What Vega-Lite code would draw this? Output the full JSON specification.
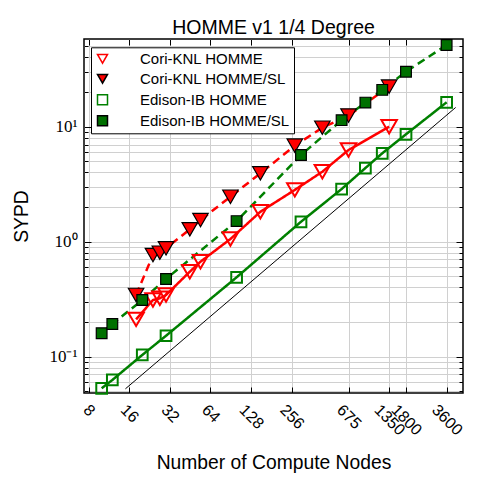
{
  "$schema": "https://vega.github.io/schema/vega-lite/v6.json",
  "width": 379,
  "height": 354,
  "autosize": {"type": "none"},
  "padding": {"left": 84, "top": 39, "right": 14, "bottom": 88},
  "background": "white",
  "title": {"text": "HOMME v1 1/4 Degree", "font": "Liberation Sans", "fontSize": 19.5, "fontWeight": "normal", "color": "black", "anchor": "middle", "baseline": "alphabetic", "offset": -16},
  "config": {
    "view": {"stroke": "black", "strokeWidth": 1.5},
    "legend": {"orient": "none", "legendX": 7, "legendY": 8.3, "title": null, "strokeColor": "black", "fillColor": "white", "cornerRadius": 0, "padding": 4, "rowPadding": 4, "symbolSize": 100, "labelOffset": 30, "labelFont": "Liberation Sans", "labelFontSize": 15, "labelColor": "black", "labelLimit": 300}
  },
  "data": {
    "values": [
      {"series": "Cori-KNL HOMME", "nodes": 18, "sypd": 0.211},
      {"series": "Cori-KNL HOMME", "nodes": 24, "sypd": 0.311},
      {"series": "Cori-KNL HOMME", "nodes": 27, "sypd": 0.322},
      {"series": "Cori-KNL HOMME", "nodes": 30, "sypd": 0.344},
      {"series": "Cori-KNL HOMME", "nodes": 45, "sypd": 0.548},
      {"series": "Cori-KNL HOMME", "nodes": 54, "sypd": 0.67},
      {"series": "Cori-KNL HOMME", "nodes": 90, "sypd": 1.055},
      {"series": "Cori-KNL HOMME", "nodes": 150, "sypd": 1.82},
      {"series": "Cori-KNL HOMME", "nodes": 270, "sypd": 2.82},
      {"series": "Cori-KNL HOMME", "nodes": 432, "sypd": 4.06},
      {"series": "Cori-KNL HOMME", "nodes": 675, "sypd": 6.27},
      {"series": "Cori-KNL HOMME", "nodes": 1350, "sypd": 10.0},
      {"series": "Cori-KNL HOMME/SL", "nodes": 18, "sypd": 0.344},
      {"series": "Cori-KNL HOMME/SL", "nodes": 24, "sypd": 0.766},
      {"series": "Cori-KNL HOMME/SL", "nodes": 27, "sypd": 0.802},
      {"series": "Cori-KNL HOMME/SL", "nodes": 30, "sypd": 0.876},
      {"series": "Cori-KNL HOMME/SL", "nodes": 45, "sypd": 1.28},
      {"series": "Cori-KNL HOMME/SL", "nodes": 54, "sypd": 1.54},
      {"series": "Cori-KNL HOMME/SL", "nodes": 90, "sypd": 2.46},
      {"series": "Cori-KNL HOMME/SL", "nodes": 150, "sypd": 3.93},
      {"series": "Cori-KNL HOMME/SL", "nodes": 270, "sypd": 6.84},
      {"series": "Cori-KNL HOMME/SL", "nodes": 432, "sypd": 9.8},
      {"series": "Cori-KNL HOMME/SL", "nodes": 675, "sypd": 12.5},
      {"series": "Cori-KNL HOMME/SL", "nodes": 1350, "sypd": 22.3},
      {"series": "Edison-IB HOMME", "nodes": 10, "sypd": 0.0531},
      {"series": "Edison-IB HOMME", "nodes": 12, "sypd": 0.0627},
      {"series": "Edison-IB HOMME", "nodes": 20, "sypd": 0.1035},
      {"series": "Edison-IB HOMME", "nodes": 30, "sypd": 0.152},
      {"series": "Edison-IB HOMME", "nodes": 100, "sypd": 0.49},
      {"series": "Edison-IB HOMME", "nodes": 300, "sypd": 1.49},
      {"series": "Edison-IB HOMME", "nodes": 600, "sypd": 2.87},
      {"series": "Edison-IB HOMME", "nodes": 900, "sypd": 4.37},
      {"series": "Edison-IB HOMME", "nodes": 1200, "sypd": 5.87},
      {"series": "Edison-IB HOMME", "nodes": 1800, "sypd": 8.59},
      {"series": "Edison-IB HOMME", "nodes": 3600, "sypd": 16.3},
      {"series": "Edison-IB HOMME/SL", "nodes": 10, "sypd": 0.16},
      {"series": "Edison-IB HOMME/SL", "nodes": 12, "sypd": 0.192},
      {"series": "Edison-IB HOMME/SL", "nodes": 20, "sypd": 0.311},
      {"series": "Edison-IB HOMME/SL", "nodes": 30, "sypd": 0.474},
      {"series": "Edison-IB HOMME/SL", "nodes": 100, "sypd": 1.51},
      {"series": "Edison-IB HOMME/SL", "nodes": 300, "sypd": 5.67},
      {"series": "Edison-IB HOMME/SL", "nodes": 600, "sypd": 11.4},
      {"series": "Edison-IB HOMME/SL", "nodes": 900, "sypd": 16.2},
      {"series": "Edison-IB HOMME/SL", "nodes": 1200, "sypd": 20.9},
      {"series": "Edison-IB HOMME/SL", "nodes": 1800, "sypd": 30.1},
      {"series": "Edison-IB HOMME/SL", "nodes": 3600, "sypd": 51.3}
    ]
  },
  "layer": [
    {
      "data": {"values": [{"nodes": 15, "sypd": 0.0525}, {"nodes": 4200, "sypd": 14.7}]},
      "mark": {"type": "line", "color": "black", "strokeWidth": 1},
      "encoding": {
        "x": {
          "field": "nodes", "type": "quantitative",
          "scale": {"type": "log", "domain": [7.4, 4760], "nice": false, "zero": false},
          "axis": {
            "orient": "bottom",
            "values": [8, 16, 32, 64, 128, 256, 675, 1350, 1800, 3600],
            "format": "d",
            "title": "Number of Compute Nodes",
            "titleFont": "Liberation Sans", "titleFontSize": 19.3, "titleFontWeight": "normal", "titleColor": "black",
            "titleBaseline": "alphabetic", "titleY": 75,
            "labelAngle": 45, "labelAlign": "center", "labelBaseline": "middle",
            "labelFont": "Liberation Sans", "labelFontSize": 16, "labelColor": "black",
            "labelPadding": {"condition": [
              {"test": "datum.value < 10", "value": 23},
              {"test": "datum.value < 100", "value": 26.3},
              {"test": "datum.value < 1000", "value": 29.5}
            ], "value": 32.6},
            "labelOverlap": false, "labelBound": false, "labelFlush": false,
            "domain": false,
            "ticks": true, "tickSize": -6, "tickColor": "black", "tickWidth": 1,
            "grid": true, "gridColor": "#d0d0d0", "gridWidth": 1
          }
        },
        "y": {
          "field": "sypd", "type": "quantitative",
          "scale": {"type": "log", "domain": [0.0483, 57.9], "nice": false, "zero": false},
          "axis": {
            "orient": "left",
            "values": [0.05, 0.06, 0.07, 0.08, 0.09, 0.1, 0.2, 0.3, 0.4, 0.5, 0.6, 0.7, 0.8, 0.9, 1, 2, 3, 4, 5, 6, 7, 8, 9, 10, 20, 30, 40, 50],
            "labelExpr": "datum.value == 0.1 ? '10⁻¹' : datum.value == 1 ? '10⁰' : datum.value == 10 ? '10¹' : ''",
            "title": "SYPD",
            "titleFont": "Liberation Sans", "titleFontSize": 19.3, "titleFontWeight": "normal", "titleColor": "black",
            "titleBaseline": "alphabetic", "titleX": -57,
            "labelFont": "Liberation Serif", "labelFontSize": 17, "labelColor": "black",
            "labelAlign": "right", "labelBaseline": "middle", "labelPadding": 14,
            "labelOverlap": false, "labelBound": false, "labelFlush": false,
            "domain": false,
            "ticks": true,
            "tickSize": {"condition": {"test": "datum.value == 0.1 || datum.value == 1 || datum.value == 10", "value": -7}, "value": -4},
            "tickColor": "black", "tickWidth": 1,
            "grid": true, "gridColor": "#d0d0d0", "gridWidth": 1
          }
        }
      }
    },
    {
      "mark": {"type": "line", "strokeWidth": 2.5},
      "encoding": {
        "x": {"field": "nodes", "type": "quantitative", "scale": {"type": "log", "domain": [7.4, 4760], "nice": false, "zero": false}, "axis": null},
        "y": {"field": "sypd", "type": "quantitative", "scale": {"type": "log", "domain": [0.0483, 57.9], "nice": false, "zero": false}, "axis": null},
        "detail": {"field": "series", "type": "nominal"},
        "color": {"condition": {"test": "indexof(datum.series, 'Cori') >= 0", "value": "#ff0000"}, "value": "#008000"},
        "strokeDash": {"condition": {"test": "indexof(datum.series, 'SL') >= 0", "value": [8, 5]}, "value": [1, 0]}
      }
    },
    {
      "mark": {"type": "point", "opacity": 1},
      "encoding": {
        "x": {
          "field": "nodes", "type": "quantitative", "scale": {"type": "log", "domain": [7.4, 4760], "nice": false, "zero": false},
          "axis": {"orient": "top", "values": [8, 16, 32, 64, 128, 256, 675, 1350, 1800, 3600], "labels": false, "title": null, "grid": false, "domain": false, "ticks": true, "tickSize": -6, "tickColor": "black", "tickWidth": 1}
        },
        "y": {
          "field": "sypd", "type": "quantitative", "scale": {"type": "log", "domain": [0.0483, 57.9], "nice": false, "zero": false},
          "axis": {"orient": "right", "values": [0.05, 0.06, 0.07, 0.08, 0.09, 0.1, 0.2, 0.3, 0.4, 0.5, 0.6, 0.7, 0.8, 0.9, 1, 2, 3, 4, 5, 6, 7, 8, 9, 10, 20, 30, 40, 50], "labels": false, "title": null, "grid": false, "domain": false, "ticks": true,
            "tickSize": {"condition": {"test": "datum.value == 0.1 || datum.value == 1 || datum.value == 10", "value": -7}, "value": -4},
            "tickColor": "black", "tickWidth": 1}
        },
        "shape": {
          "field": "series", "type": "nominal",
          "scale": {"domain": ["Cori-KNL HOMME", "Cori-KNL HOMME/SL", "Edison-IB HOMME", "Edison-IB HOMME/SL"], "range": ["triangle-down", "triangle-down", "square", "square"]},
          "legend": {
            "encode": {
              "symbols": {
                "update": {
                  "shape": {"signal": "datum.value == 'Cori-KNL HOMME' ? 'M-1.6,-1.2L1,-1.2L-0.3,1.2Z M3.5,-1.2L6.1,-1.2L4.8,1.2Z M-0.3,-0.3L4.8,-0.3' : datum.value == 'Cori-KNL HOMME/SL' ? 'M-1.6,-1.2L1,-1.2L-0.3,1.2Z M3.5,-1.2L6.1,-1.2L4.8,1.2Z M1,-0.3L2.4,-0.3' : datum.value == 'Edison-IB HOMME' ? 'M-1.3,-1L0.7,-1L0.7,1L-1.3,1Z M3.8,-1L5.8,-1L5.8,1L3.8,1Z M-0.3,0L4.8,0' : 'M-1.3,-1L0.7,-1L0.7,1L-1.3,1Z M3.8,-1L5.8,-1L5.8,1L3.8,1Z M0.7,0L2.2,0'"},
                  "strokeWidth": {"signal": "indexof(datum.value, 'SL') >= 0 ? 1.2 : 2"}
                }
              }
            }
          }
        },
        "fill": {
          "field": "series", "type": "nominal",
          "scale": {"domain": ["Cori-KNL HOMME", "Cori-KNL HOMME/SL", "Edison-IB HOMME", "Edison-IB HOMME/SL"], "range": ["transparent", "#ff0000", "transparent", "#007000"]},
          "legend": {
            "encode": {
              "symbols": {
                "update": {
                  "shape": {"signal": "datum.value == 'Cori-KNL HOMME' ? 'M-1.6,-1.2L1,-1.2L-0.3,1.2Z M3.5,-1.2L6.1,-1.2L4.8,1.2Z M-0.3,-0.3L4.8,-0.3' : datum.value == 'Cori-KNL HOMME/SL' ? 'M-1.6,-1.2L1,-1.2L-0.3,1.2Z M3.5,-1.2L6.1,-1.2L4.8,1.2Z M1,-0.3L2.4,-0.3' : datum.value == 'Edison-IB HOMME' ? 'M-1.3,-1L0.7,-1L0.7,1L-1.3,1Z M3.8,-1L5.8,-1L5.8,1L3.8,1Z M-0.3,0L4.8,0' : 'M-1.3,-1L0.7,-1L0.7,1L-1.3,1Z M3.8,-1L5.8,-1L5.8,1L3.8,1Z M0.7,0L2.2,0'"},
                  "strokeWidth": {"signal": "indexof(datum.value, 'SL') >= 0 ? 1.2 : 2"}
                }
              }
            }
          }
        },
        "stroke": {
          "field": "series", "type": "nominal",
          "scale": {"domain": ["Cori-KNL HOMME", "Cori-KNL HOMME/SL", "Edison-IB HOMME", "Edison-IB HOMME/SL"], "range": ["#ff0000", "#000000", "#008000", "#000000"]},
          "legend": {
            "encode": {
              "symbols": {
                "update": {
                  "shape": {"signal": "datum.value == 'Cori-KNL HOMME' ? 'M-1.6,-1.2L1,-1.2L-0.3,1.2Z M3.5,-1.2L6.1,-1.2L4.8,1.2Z M-0.3,-0.3L4.8,-0.3' : datum.value == 'Cori-KNL HOMME/SL' ? 'M-1.6,-1.2L1,-1.2L-0.3,1.2Z M3.5,-1.2L6.1,-1.2L4.8,1.2Z M1,-0.3L2.4,-0.3' : datum.value == 'Edison-IB HOMME' ? 'M-1.3,-1L0.7,-1L0.7,1L-1.3,1Z M3.8,-1L5.8,-1L5.8,1L3.8,1Z M-0.3,0L4.8,0' : 'M-1.3,-1L0.7,-1L0.7,1L-1.3,1Z M3.8,-1L5.8,-1L5.8,1L3.8,1Z M0.7,0L2.2,0'"},
                  "strokeWidth": {"signal": "indexof(datum.value, 'SL') >= 0 ? 1.2 : 2"}
                }
              }
            }
          }
        },
        "size": {"condition": {"test": "indexof(datum.series, 'Cori') >= 0", "value": 240}, "value": 115},
        "strokeWidth": {"condition": {"test": "indexof(datum.series, 'SL') >= 0", "value": 1.2}, "value": 2}
      }
    }
  ]
}
